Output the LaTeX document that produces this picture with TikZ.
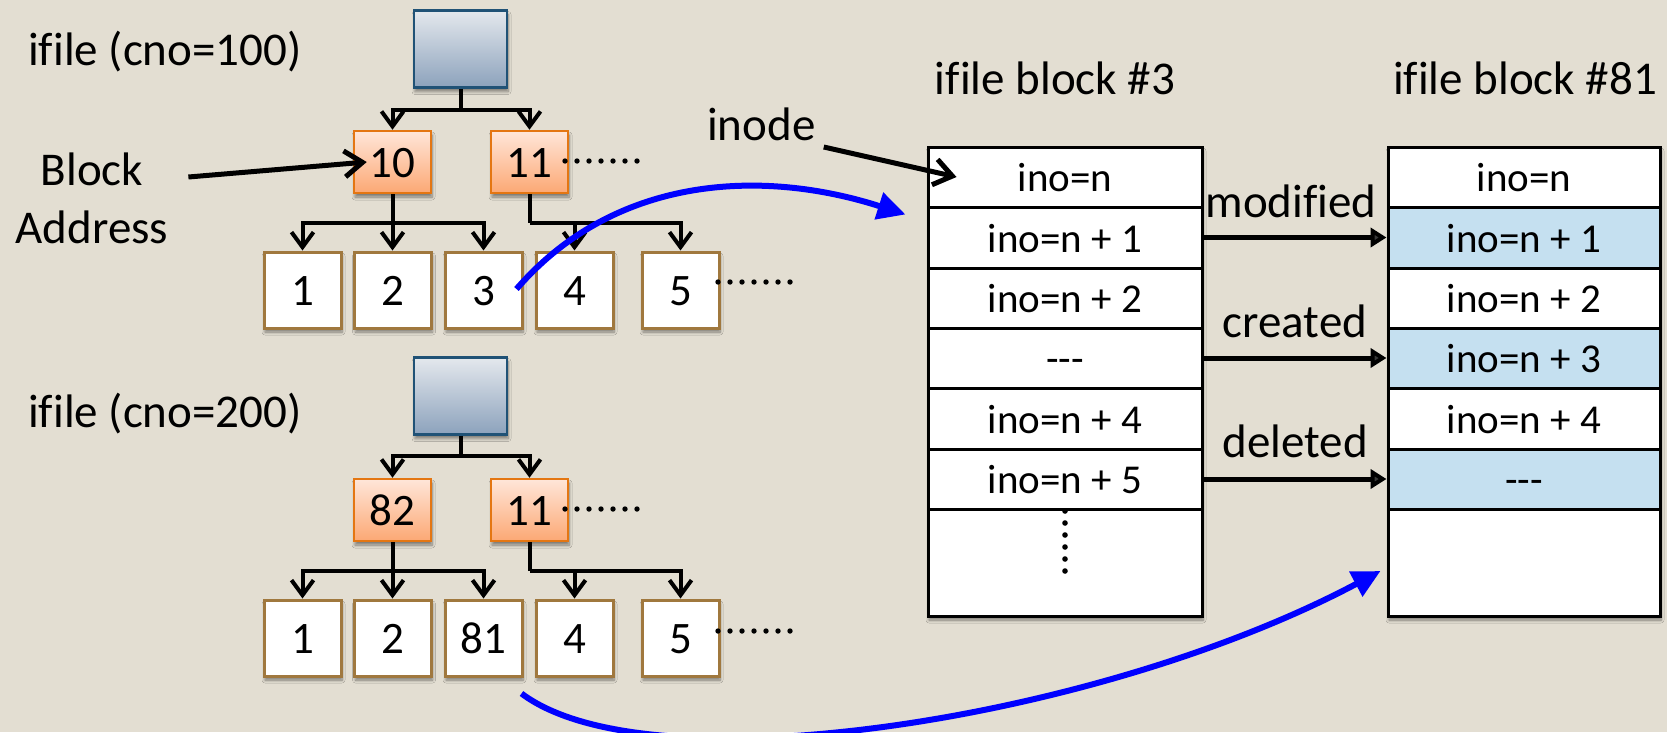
\documentclass[tikz,border=0pt]{standalone}
\usepackage{fontspec}
\setmainfont[Ligatures={TeX,NoCommon}]{Carlito}
\usetikzlibrary{arrows.meta,calc,shadows,shadows.blur}

\definecolor{paper}{RGB}{227,222,210}
\definecolor{roottop}{RGB}{228,232,237}
\definecolor{rootbot}{RGB}{140,162,188}
\definecolor{rootedge}{RGB}{32,82,118}
\definecolor{midtop}{RGB}{255,230,217}
\definecolor{midbot}{RGB}{252,168,116}
\definecolor{midedge}{RGB}{228,118,18}
\definecolor{leafedge}{RGB}{160,120,62}
\definecolor{hilite}{RGB}{197,224,240}
\definecolor{linkblue}{RGB}{0,0,255}

\begin{document}
\begin{tikzpicture}[x=1pt, y=-1pt,
  softshadow/.style={blur shadow={shadow xshift=1pt, shadow yshift=-4pt,
      shadow blur radius=3pt, shadow blur steps=6, shadow opacity=45}},
  lbl/.style={font=\fontsize{47}{56}\selectfont, inner sep=0pt},
  rootbox/.style={draw=rootedge, line width=2.5pt, top color=roottop,
      bottom color=rootbot, minimum width=93pt, minimum height=77pt,
      inner sep=0pt, softshadow},
  midbox/.style={draw=midedge, line width=2.5pt, top color=midtop,
      bottom color=midbot, minimum width=77pt, minimum height=62pt,
      inner sep=0pt, font=\fontsize{45}{54}\selectfont,
      text height=30pt, text depth=0pt, softshadow},
  leafbox/.style={draw=leafedge, fill=white, line width=3pt,
      minimum width=77pt, minimum height=76pt, inner sep=0pt,
      font=\fontsize{45}{54}\selectfont, text height=30pt, text depth=0pt,
      softshadow},
  slot/.style={draw=black, fill=white, line width=3pt, minimum width=274pt,
      inner sep=0pt, font=\fontsize{41}{49}\selectfont,
      text height=29pt, text depth=0pt},
  hot/.style={fill=hilite},
  treelink/.style={line width=4pt,
      -{Straight Barb[length=15pt,width=22pt]}},
  treebar/.style={line width=4pt},
  pointer/.style={line width=5pt,
      -{Straight Barb[length=18pt,width=26pt]}},
  change/.style={line width=5pt, -{Triangle[length=16pt,width=19pt]}},
  jump/.style={draw=linkblue, line width=6pt,
      -{Triangle[length=28pt,width=27pt]}},
]

% paper
\path[use as bounding box, fill=paper] (0,0) rectangle (1667,732);

% ---------- ifile tree, checkpoint 100 ----------
\node[lbl, anchor=base west] (t100) at (28,65) {ifile (cno=100)};
\node[rootbox] (ra) at (460.5,49) {};
\node[midbox] (ma) at (392.5,162) {10};
\node[midbox] (mb) at (529.5,162) {11};
\node[leafbox] (la1) at (302.5,290) {1};
\node[leafbox] (la2) at (393,290) {2};
\node[leafbox] (la3) at (483.5,290) {3};
\node[leafbox] (la4) at (574.5,290) {4};
\node[leafbox] (la5) at (680.5,290) {5};

\draw[treebar] (ra.south) -- ++(0,21) coordinate (ja);
\draw[treelink] (ja) -| (ma.north);
\draw[treelink] (ja) -| (mb.north);
\draw[treebar] (ma.south) -- ++(0,29) coordinate (ka);
\draw[treelink] (ka) -| (la1.north);
\draw[treelink] (ka) -| (la3.north);
\draw[treelink] (ka) -- (ka |- la2.north);
\draw[treebar] (mb.south) -- ++(0,29) coordinate (kb);
\draw[treelink] (kb) -| (la5.north);
\draw[treelink] (la4.north |- kb) -- (la4.north);

\foreach \i in {0,...,6} \fill (565+12*\i,161) circle (2.7);
\foreach \i in {0,...,6} \fill (718+12*\i,282) circle (2.7);

% block address label
\node[lbl, anchor=base] (blk) at (92,185) {Block};
\node[lbl, anchor=base] (adr) at (92,243) {Address};
\coordinate (bstart) at ($(blk.base east)+(45,-8)$);
\draw[pointer] (bstart) -- ($(ma.west)+(14,0)$);

% ---------- ifile tree, checkpoint 200 ----------
\node[lbl, anchor=base west] (t200) at (28,427) {ifile (cno=200)};
\node[rootbox] (rb) at (460.5,396) {};
\node[midbox] (mc) at (392.5,510) {82};
\node[midbox] (md) at (529.5,510) {11};
\node[leafbox] (lb1) at (302.5,638) {1};
\node[leafbox] (lb2) at (393,638) {2};
\node[leafbox] (lb3) at (483.5,638) {81};
\node[leafbox] (lb4) at (574.5,638) {4};
\node[leafbox] (lb5) at (680.5,638) {5};

\draw[treebar] (rb.south) -- ++(0,20) coordinate (jb);
\draw[treelink] (jb) -| (mc.north);
\draw[treelink] (jb) -| (md.north);
\draw[treebar] (mc.south) -- ++(0,29) coordinate (kc);
\draw[treelink] (kc) -| (lb1.north);
\draw[treelink] (kc) -| (lb3.north);
\draw[treelink] (kc) -- (kc |- lb2.north);
\draw[treebar] (md.south) -- ++(0,29) coordinate (kd);
\draw[treelink] (kd) -| (lb5.north);
\draw[treelink] (lb4.north |- kd) -- (lb4.north);

\foreach \i in {0,...,6} \fill (565+12*\i,509) circle (2.7);
\foreach \i in {0,...,6} \fill (718+12*\i,631) circle (2.7);

% ---------- ifile block #3 ----------
\node[lbl, anchor=base] (h3) at (1055,94) {ifile block \#3};
\path[fill=white, softshadow] (928,147) rectangle (1202,616);
\node[slot, minimum height=60pt] (p1) at (1065,177) {ino=n};
\node[slot, minimum height=61pt] (p2) at (1065,237.5) {ino=n + 1};
\node[slot, minimum height=60pt] (p3) at (1065,298) {ino=n + 2};
\node[slot, minimum height=60pt] (p4) at (1065,358) {-{}-{}-};
\node[slot, minimum height=61pt] (p5) at (1065,418.5) {ino=n + 4};
\node[slot, minimum height=60pt] (p6) at (1065,479) {ino=n + 5};
\node[slot, minimum height=107pt] (p7) at (1065,562.5) {};
\foreach \i in {0,...,5} \fill (1065,511+12*\i) circle (2.8);

% ---------- ifile block #81 ----------
\node[lbl, anchor=base] (h81) at (1525,94) {ifile block \#81};
\path[fill=white, softshadow] (1388,147) rectangle (1660,616);
\node[slot, minimum width=272pt, minimum height=60pt] (q1) at (1524,177) {ino=n};
\node[slot, hot, minimum width=272pt, minimum height=61pt] (q2) at (1524,237.5) {ino=n + 1};
\node[slot, minimum width=272pt, minimum height=60pt] (q3) at (1524,298) {ino=n + 2};
\node[slot, hot, minimum width=272pt, minimum height=60pt] (q4) at (1524,358) {ino=n + 3};
\node[slot, minimum width=272pt, minimum height=61pt] (q5) at (1524,418.5) {ino=n + 4};
\node[slot, hot, minimum width=272pt, minimum height=60pt] (q6) at (1524,479) {-{}-{}-};
\node[slot, minimum width=272pt, minimum height=107pt] (q7) at (1524,562.5) {};

% ---------- changes between the blocks ----------
\draw[change] (p2.east) -- (q2.west);
\draw[change] (p4.east) -- (q4.west);
\draw[change] (p6.east) -- (q6.west);
\node[lbl, anchor=base] (mod) at (1291,217) {modified};
\node[lbl, anchor=base] (cre) at (1295,337) {created};
\node[lbl, anchor=base] (del) at (1295,457) {deleted};

% inode pointer
\node[lbl, anchor=base west] (ino) at (707,140) {inode};
\coordinate (istart) at ($(ino.base east)+(8,7)$);
\draw[pointer] (istart) -- ($(p1.west)+(30,0)$);

% ---------- block links ----------
\draw[jump] ($(la3.east)+(-7,-1)$) .. controls (616,174) and (764,169)
      .. ($(p1.south west)+(-21,6)$);
\draw[jump] ($(lb3.south east)+(-2,16)$) .. controls (650,790) and (1100,720)
      .. ($(q7.west)+(-6,8.5)$);

\end{tikzpicture}
\end{document}
